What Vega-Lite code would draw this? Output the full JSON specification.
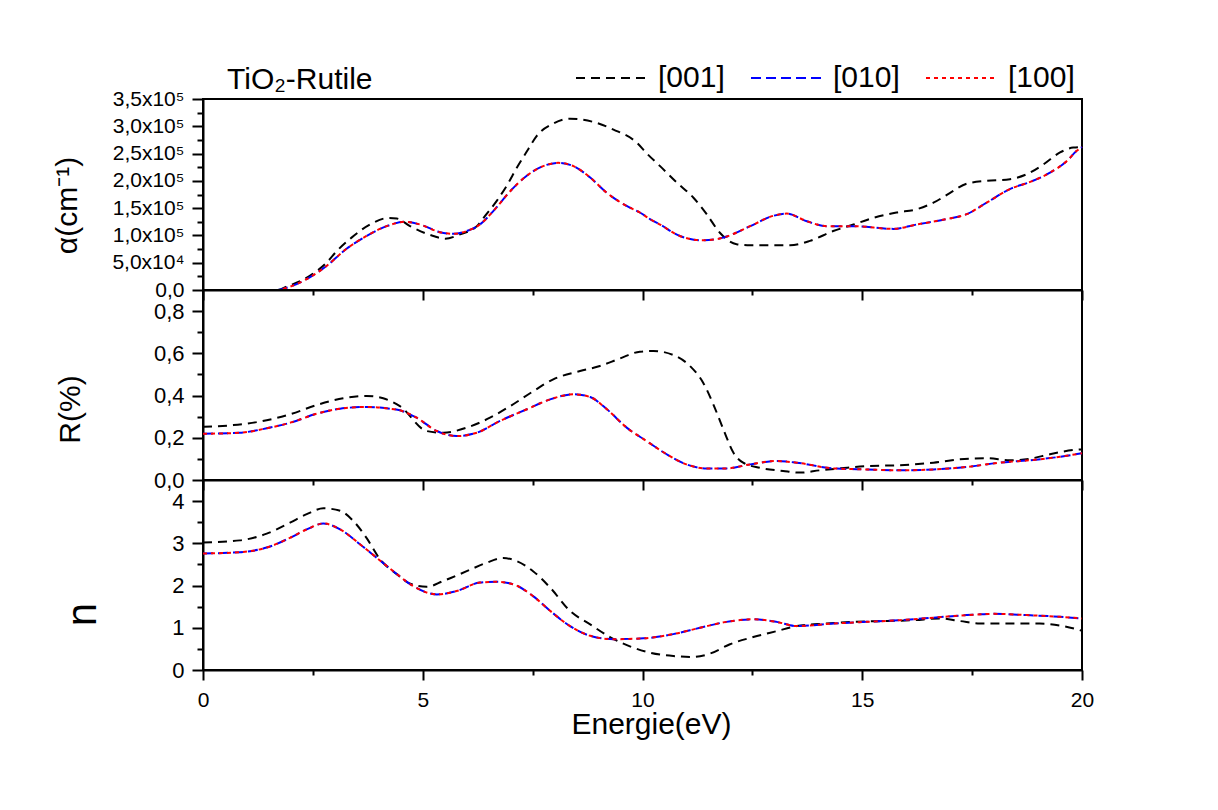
{
  "$schema": "https://vega.github.io/schema/vega-lite/v6.json",
  "padding": {"top": 40, "left": 51, "right": 5, "bottom": 5},
  "background": "white",
  "spacing": 0,
  "bounds": "flush",
  "config": {
    "font": "Liberation Sans",
    "view": {"stroke": "black", "strokeWidth": 2},
    "axis": {"domainColor": "black", "domainWidth": 2, "tickColor": "black", "tickWidth": 2, "labelColor": "black", "titleColor": "black", "grid": false, "labelFont": "Liberation Sans", "titleFont": "Liberation Sans", "titleFontWeight": "normal", "labelOverlap": false, "labelFlush": false}
  },
  "datasets": {
    "alpha": [
      {"E":0,"v":0,"s":"[001]"},{"E":1,"v":0,"s":"[001]"},{"E":1.7,"v":0,"s":"[001]"},{"E":1.9,"v":6000,"s":"[001]"},{"E":2.43,"v":26000,"s":"[001]"},{"E":2.81,"v":50000,"s":"[001]"},{"E":3.04,"v":71000,"s":"[001]"},{"E":3.38,"v":96000,"s":"[001]"},{"E":3.8,"v":120000,"s":"[001]"},{"E":4.22,"v":132000,"s":"[001]"},{"E":4.41,"v":131000,"s":"[001]"},{"E":4.71,"v":117000,"s":"[001]"},{"E":5.24,"v":99000,"s":"[001]"},{"E":5.51,"v":94000,"s":"[001]"},{"E":5.85,"v":102000,"s":"[001]"},{"E":6.23,"v":117000,"s":"[001]"},{"E":6.45,"v":139000,"s":"[001]"},{"E":6.68,"v":163000,"s":"[001]"},{"E":6.91,"v":191000,"s":"[001]"},{"E":7.14,"v":224000,"s":"[001]"},{"E":7.4,"v":258000,"s":"[001]"},{"E":7.59,"v":282000,"s":"[001]"},{"E":7.97,"v":305000,"s":"[001]"},{"E":8.35,"v":314000,"s":"[001]"},{"E":8.88,"v":308000,"s":"[001]"},{"E":9.34,"v":294000,"s":"[001]"},{"E":9.87,"v":270000,"s":"[001]"},{"E":10.1,"v":250000,"s":"[001]"},{"E":10.4,"v":227000,"s":"[001]"},{"E":10.78,"v":197000,"s":"[001]"},{"E":11.16,"v":169000,"s":"[001]"},{"E":11.46,"v":139000,"s":"[001]"},{"E":11.76,"v":105000,"s":"[001]"},{"E":12.14,"v":84000,"s":"[001]"},{"E":12.45,"v":82000,"s":"[001]"},{"E":13.36,"v":82000,"s":"[001]"},{"E":13.81,"v":90000,"s":"[001]"},{"E":14.34,"v":108000,"s":"[001]"},{"E":14.8,"v":120000,"s":"[001]"},{"E":15.25,"v":132000,"s":"[001]"},{"E":15.78,"v":142000,"s":"[001]"},{"E":16.24,"v":148000,"s":"[001]"},{"E":16.62,"v":160000,"s":"[001]"},{"E":17.0,"v":178000,"s":"[001]"},{"E":17.38,"v":195000,"s":"[001]"},{"E":17.83,"v":200000,"s":"[001]"},{"E":18.36,"v":203000,"s":"[001]"},{"E":18.74,"v":212000,"s":"[001]"},{"E":19.12,"v":230000,"s":"[001]"},{"E":19.5,"v":252000,"s":"[001]"},{"E":19.8,"v":261000,"s":"[001]"},{"E":20,"v":262000,"s":"[001]"},
      {"E":0,"v":0,"s":"[010]"},{"E":1,"v":0,"s":"[010]"},{"E":1.7,"v":0,"s":"[010]"},{"E":1.9,"v":4000,"s":"[010]"},{"E":2.36,"v":20000,"s":"[010]"},{"E":2.81,"v":44000,"s":"[010]"},{"E":3.26,"v":75000,"s":"[010]"},{"E":3.72,"v":99000,"s":"[010]"},{"E":4.18,"v":117000,"s":"[010]"},{"E":4.6,"v":125000,"s":"[010]"},{"E":4.94,"v":120000,"s":"[010]"},{"E":5.39,"v":106000,"s":"[010]"},{"E":5.7,"v":103000,"s":"[010]"},{"E":6.0,"v":108000,"s":"[010]"},{"E":6.3,"v":120000,"s":"[010]"},{"E":6.61,"v":145000,"s":"[010]"},{"E":6.99,"v":181000,"s":"[010]"},{"E":7.36,"v":209000,"s":"[010]"},{"E":7.74,"v":227000,"s":"[010]"},{"E":8.08,"v":233000,"s":"[010]"},{"E":8.43,"v":227000,"s":"[010]"},{"E":8.81,"v":206000,"s":"[010]"},{"E":9.19,"v":178000,"s":"[010]"},{"E":9.64,"v":154000,"s":"[010]"},{"E":9.94,"v":142000,"s":"[010]"},{"E":10.17,"v":130000,"s":"[010]"},{"E":10.4,"v":120000,"s":"[010]"},{"E":10.85,"v":99000,"s":"[010]"},{"E":11.38,"v":91000,"s":"[010]"},{"E":11.84,"v":96000,"s":"[010]"},{"E":12.45,"v":117000,"s":"[010]"},{"E":12.98,"v":136000,"s":"[010]"},{"E":13.28,"v":140000,"s":"[010]"},{"E":13.74,"v":126000,"s":"[010]"},{"E":14.19,"v":117000,"s":"[010]"},{"E":14.8,"v":117000,"s":"[010]"},{"E":15.71,"v":112000,"s":"[010]"},{"E":16.24,"v":120000,"s":"[010]"},{"E":16.92,"v":130000,"s":"[010]"},{"E":17.38,"v":139000,"s":"[010]"},{"E":17.83,"v":160000,"s":"[010]"},{"E":18.36,"v":185000,"s":"[010]"},{"E":18.82,"v":198000,"s":"[010]"},{"E":19.27,"v":215000,"s":"[010]"},{"E":19.65,"v":236000,"s":"[010]"},{"E":19.88,"v":255000,"s":"[010]"},{"E":20,"v":262000,"s":"[010]"},
      {"E":0,"v":0,"s":"[100]"},{"E":1,"v":0,"s":"[100]"},{"E":1.7,"v":0,"s":"[100]"},{"E":1.9,"v":4000,"s":"[100]"},{"E":2.36,"v":20000,"s":"[100]"},{"E":2.81,"v":44000,"s":"[100]"},{"E":3.26,"v":75000,"s":"[100]"},{"E":3.72,"v":99000,"s":"[100]"},{"E":4.18,"v":117000,"s":"[100]"},{"E":4.6,"v":125000,"s":"[100]"},{"E":4.94,"v":120000,"s":"[100]"},{"E":5.39,"v":106000,"s":"[100]"},{"E":5.7,"v":103000,"s":"[100]"},{"E":6.0,"v":108000,"s":"[100]"},{"E":6.3,"v":120000,"s":"[100]"},{"E":6.61,"v":145000,"s":"[100]"},{"E":6.99,"v":181000,"s":"[100]"},{"E":7.36,"v":209000,"s":"[100]"},{"E":7.74,"v":227000,"s":"[100]"},{"E":8.08,"v":233000,"s":"[100]"},{"E":8.43,"v":227000,"s":"[100]"},{"E":8.81,"v":206000,"s":"[100]"},{"E":9.19,"v":178000,"s":"[100]"},{"E":9.64,"v":154000,"s":"[100]"},{"E":9.94,"v":142000,"s":"[100]"},{"E":10.17,"v":130000,"s":"[100]"},{"E":10.4,"v":120000,"s":"[100]"},{"E":10.85,"v":99000,"s":"[100]"},{"E":11.38,"v":91000,"s":"[100]"},{"E":11.84,"v":96000,"s":"[100]"},{"E":12.45,"v":117000,"s":"[100]"},{"E":12.98,"v":136000,"s":"[100]"},{"E":13.28,"v":140000,"s":"[100]"},{"E":13.74,"v":126000,"s":"[100]"},{"E":14.19,"v":117000,"s":"[100]"},{"E":14.8,"v":117000,"s":"[100]"},{"E":15.71,"v":112000,"s":"[100]"},{"E":16.24,"v":120000,"s":"[100]"},{"E":16.92,"v":130000,"s":"[100]"},{"E":17.38,"v":139000,"s":"[100]"},{"E":17.83,"v":160000,"s":"[100]"},{"E":18.36,"v":185000,"s":"[100]"},{"E":18.82,"v":198000,"s":"[100]"},{"E":19.27,"v":215000,"s":"[100]"},{"E":19.65,"v":236000,"s":"[100]"},{"E":19.88,"v":255000,"s":"[100]"},{"E":20,"v":262000,"s":"[100]"}
    ],
    "refl": [
      {"E":0,"v":0.252,"s":"[001]"},{"E":0.69,"v":0.26,"s":"[001]"},{"E":1.45,"v":0.283,"s":"[001]"},{"E":1.98,"v":0.311,"s":"[001]"},{"E":2.59,"v":0.355,"s":"[001]"},{"E":3.19,"v":0.387,"s":"[001]"},{"E":3.72,"v":0.398,"s":"[001]"},{"E":4.1,"v":0.387,"s":"[001]"},{"E":4.48,"v":0.35,"s":"[001]"},{"E":5.09,"v":0.232,"s":"[001]"},{"E":5.47,"v":0.224,"s":"[001]"},{"E":6.0,"v":0.248,"s":"[001]"},{"E":6.53,"v":0.295,"s":"[001]"},{"E":6.99,"v":0.35,"s":"[001]"},{"E":7.51,"v":0.42,"s":"[001]"},{"E":7.97,"v":0.477,"s":"[001]"},{"E":8.58,"v":0.516,"s":"[001]"},{"E":9.03,"v":0.54,"s":"[001]"},{"E":9.49,"v":0.576,"s":"[001]"},{"E":9.94,"v":0.608,"s":"[001]"},{"E":10.25,"v":0.611,"s":"[001]"},{"E":10.7,"v":0.592,"s":"[001]"},{"E":11.08,"v":0.54,"s":"[001]"},{"E":11.38,"v":0.461,"s":"[001]"},{"E":11.61,"v":0.359,"s":"[001]"},{"E":11.84,"v":0.24,"s":"[001]"},{"E":12.07,"v":0.129,"s":"[001]"},{"E":12.29,"v":0.082,"s":"[001]"},{"E":12.67,"v":0.058,"s":"[001]"},{"E":13.2,"v":0.043,"s":"[001]"},{"E":13.58,"v":0.035,"s":"[001]"},{"E":14.04,"v":0.046,"s":"[001]"},{"E":14.49,"v":0.055,"s":"[001]"},{"E":15.1,"v":0.066,"s":"[001]"},{"E":15.86,"v":0.07,"s":"[001]"},{"E":16.62,"v":0.082,"s":"[001]"},{"E":17.22,"v":0.098,"s":"[001]"},{"E":17.83,"v":0.103,"s":"[001]"},{"E":18.36,"v":0.093,"s":"[001]"},{"E":18.82,"v":0.101,"s":"[001]"},{"E":19.27,"v":0.122,"s":"[001]"},{"E":19.8,"v":0.142,"s":"[001]"},{"E":20,"v":0.145,"s":"[001]"},
      {"E":0,"v":0.219,"s":"[010]"},{"E":0.84,"v":0.224,"s":"[010]"},{"E":1.45,"v":0.245,"s":"[010]"},{"E":1.98,"v":0.271,"s":"[010]"},{"E":2.59,"v":0.314,"s":"[010]"},{"E":3.12,"v":0.338,"s":"[010]"},{"E":3.72,"v":0.346,"s":"[010]"},{"E":4.25,"v":0.338,"s":"[010]"},{"E":4.48,"v":0.33,"s":"[010]"},{"E":4.86,"v":0.295,"s":"[010]"},{"E":5.32,"v":0.232,"s":"[010]"},{"E":5.77,"v":0.208,"s":"[010]"},{"E":6.23,"v":0.224,"s":"[010]"},{"E":6.76,"v":0.28,"s":"[010]"},{"E":7.37,"v":0.335,"s":"[010]"},{"E":7.9,"v":0.382,"s":"[010]"},{"E":8.43,"v":0.406,"s":"[010]"},{"E":8.81,"v":0.393,"s":"[010]"},{"E":9.19,"v":0.335,"s":"[010]"},{"E":9.64,"v":0.248,"s":"[010]"},{"E":10.09,"v":0.185,"s":"[010]"},{"E":10.55,"v":0.122,"s":"[010]"},{"E":11.0,"v":0.074,"s":"[010]"},{"E":11.46,"v":0.055,"s":"[010]"},{"E":11.91,"v":0.055,"s":"[010]"},{"E":12.45,"v":0.074,"s":"[010]"},{"E":13.05,"v":0.09,"s":"[010]"},{"E":13.51,"v":0.082,"s":"[010]"},{"E":14.34,"v":0.055,"s":"[010]"},{"E":15.1,"v":0.05,"s":"[010]"},{"E":15.86,"v":0.046,"s":"[010]"},{"E":16.62,"v":0.05,"s":"[010]"},{"E":17.38,"v":0.062,"s":"[010]"},{"E":18.13,"v":0.082,"s":"[010]"},{"E":18.89,"v":0.095,"s":"[010]"},{"E":19.5,"v":0.11,"s":"[010]"},{"E":20,"v":0.127,"s":"[010]"},
      {"E":0,"v":0.219,"s":"[100]"},{"E":0.84,"v":0.224,"s":"[100]"},{"E":1.45,"v":0.245,"s":"[100]"},{"E":1.98,"v":0.271,"s":"[100]"},{"E":2.59,"v":0.314,"s":"[100]"},{"E":3.12,"v":0.338,"s":"[100]"},{"E":3.72,"v":0.346,"s":"[100]"},{"E":4.25,"v":0.338,"s":"[100]"},{"E":4.48,"v":0.33,"s":"[100]"},{"E":4.86,"v":0.295,"s":"[100]"},{"E":5.32,"v":0.232,"s":"[100]"},{"E":5.77,"v":0.208,"s":"[100]"},{"E":6.23,"v":0.224,"s":"[100]"},{"E":6.76,"v":0.28,"s":"[100]"},{"E":7.37,"v":0.335,"s":"[100]"},{"E":7.9,"v":0.382,"s":"[100]"},{"E":8.43,"v":0.406,"s":"[100]"},{"E":8.81,"v":0.393,"s":"[100]"},{"E":9.19,"v":0.335,"s":"[100]"},{"E":9.64,"v":0.248,"s":"[100]"},{"E":10.09,"v":0.185,"s":"[100]"},{"E":10.55,"v":0.122,"s":"[100]"},{"E":11.0,"v":0.074,"s":"[100]"},{"E":11.46,"v":0.055,"s":"[100]"},{"E":11.91,"v":0.055,"s":"[100]"},{"E":12.45,"v":0.074,"s":"[100]"},{"E":13.05,"v":0.09,"s":"[100]"},{"E":13.51,"v":0.082,"s":"[100]"},{"E":14.34,"v":0.055,"s":"[100]"},{"E":15.1,"v":0.05,"s":"[100]"},{"E":15.86,"v":0.046,"s":"[100]"},{"E":16.62,"v":0.05,"s":"[100]"},{"E":17.38,"v":0.062,"s":"[100]"},{"E":18.13,"v":0.082,"s":"[100]"},{"E":18.89,"v":0.095,"s":"[100]"},{"E":19.5,"v":0.11,"s":"[100]"},{"E":20,"v":0.127,"s":"[100]"}
    ],
    "nidx": [
      {"E":0,"v":3.02,"s":"[001]"},{"E":0.84,"v":3.07,"s":"[001]"},{"E":1.45,"v":3.23,"s":"[001]"},{"E":1.98,"v":3.49,"s":"[001]"},{"E":2.36,"v":3.69,"s":"[001]"},{"E":2.74,"v":3.83,"s":"[001]"},{"E":3.12,"v":3.77,"s":"[001]"},{"E":3.42,"v":3.53,"s":"[001]"},{"E":3.72,"v":3.13,"s":"[001]"},{"E":4.03,"v":2.62,"s":"[001]"},{"E":4.41,"v":2.27,"s":"[001]"},{"E":4.7,"v":2.05,"s":"[001]"},{"E":5.09,"v":1.97,"s":"[001]"},{"E":5.47,"v":2.11,"s":"[001]"},{"E":6.0,"v":2.34,"s":"[001]"},{"E":6.45,"v":2.54,"s":"[001]"},{"E":6.83,"v":2.65,"s":"[001]"},{"E":7.14,"v":2.58,"s":"[001]"},{"E":7.51,"v":2.34,"s":"[001]"},{"E":7.9,"v":1.95,"s":"[001]"},{"E":8.35,"v":1.4,"s":"[001]"},{"E":8.81,"v":1.08,"s":"[001]"},{"E":9.26,"v":0.78,"s":"[001]"},{"E":9.79,"v":0.53,"s":"[001]"},{"E":10.17,"v":0.41,"s":"[001]"},{"E":10.7,"v":0.33,"s":"[001]"},{"E":11.16,"v":0.31,"s":"[001]"},{"E":11.54,"v":0.39,"s":"[001]"},{"E":11.99,"v":0.61,"s":"[001]"},{"E":12.52,"v":0.78,"s":"[001]"},{"E":13.05,"v":0.92,"s":"[001]"},{"E":13.51,"v":1.04,"s":"[001]"},{"E":14.19,"v":1.1,"s":"[001]"},{"E":14.8,"v":1.14,"s":"[001]"},{"E":15.56,"v":1.16,"s":"[001]"},{"E":16.16,"v":1.18,"s":"[001]"},{"E":16.77,"v":1.22,"s":"[001]"},{"E":17.22,"v":1.16,"s":"[001]"},{"E":17.68,"v":1.1,"s":"[001]"},{"E":18.29,"v":1.1,"s":"[001]"},{"E":19.04,"v":1.1,"s":"[001]"},{"E":19.57,"v":1.04,"s":"[001]"},{"E":20,"v":0.93,"s":"[001]"},
      {"E":0,"v":2.76,"s":"[010]"},{"E":0.84,"v":2.79,"s":"[010]"},{"E":1.45,"v":2.9,"s":"[010]"},{"E":1.98,"v":3.13,"s":"[010]"},{"E":2.36,"v":3.33,"s":"[010]"},{"E":2.74,"v":3.47,"s":"[010]"},{"E":3.12,"v":3.33,"s":"[010]"},{"E":3.57,"v":2.98,"s":"[010]"},{"E":3.95,"v":2.66,"s":"[010]"},{"E":4.33,"v":2.34,"s":"[010]"},{"E":4.78,"v":1.99,"s":"[010]"},{"E":5.32,"v":1.79,"s":"[010]"},{"E":5.77,"v":1.87,"s":"[010]"},{"E":6.3,"v":2.07,"s":"[010]"},{"E":6.68,"v":2.09,"s":"[010]"},{"E":7.06,"v":2.03,"s":"[010]"},{"E":7.51,"v":1.75,"s":"[010]"},{"E":7.9,"v":1.4,"s":"[010]"},{"E":8.35,"v":1.04,"s":"[010]"},{"E":8.81,"v":0.81,"s":"[010]"},{"E":9.34,"v":0.73,"s":"[010]"},{"E":10.02,"v":0.75,"s":"[010]"},{"E":10.7,"v":0.85,"s":"[010]"},{"E":11.31,"v":1.0,"s":"[010]"},{"E":11.91,"v":1.14,"s":"[010]"},{"E":12.52,"v":1.2,"s":"[010]"},{"E":13.05,"v":1.14,"s":"[010]"},{"E":13.51,"v":1.04,"s":"[010]"},{"E":14.34,"v":1.1,"s":"[010]"},{"E":15.1,"v":1.14,"s":"[010]"},{"E":15.86,"v":1.18,"s":"[010]"},{"E":16.62,"v":1.24,"s":"[010]"},{"E":17.38,"v":1.3,"s":"[010]"},{"E":17.98,"v":1.33,"s":"[010]"},{"E":18.74,"v":1.3,"s":"[010]"},{"E":19.5,"v":1.26,"s":"[010]"},{"E":20,"v":1.22,"s":"[010]"},
      {"E":0,"v":2.76,"s":"[100]"},{"E":0.84,"v":2.79,"s":"[100]"},{"E":1.45,"v":2.9,"s":"[100]"},{"E":1.98,"v":3.13,"s":"[100]"},{"E":2.36,"v":3.33,"s":"[100]"},{"E":2.74,"v":3.47,"s":"[100]"},{"E":3.12,"v":3.33,"s":"[100]"},{"E":3.57,"v":2.98,"s":"[100]"},{"E":3.95,"v":2.66,"s":"[100]"},{"E":4.33,"v":2.34,"s":"[100]"},{"E":4.78,"v":1.99,"s":"[100]"},{"E":5.32,"v":1.79,"s":"[100]"},{"E":5.77,"v":1.87,"s":"[100]"},{"E":6.3,"v":2.07,"s":"[100]"},{"E":6.68,"v":2.09,"s":"[100]"},{"E":7.06,"v":2.03,"s":"[100]"},{"E":7.51,"v":1.75,"s":"[100]"},{"E":7.9,"v":1.4,"s":"[100]"},{"E":8.35,"v":1.04,"s":"[100]"},{"E":8.81,"v":0.81,"s":"[100]"},{"E":9.34,"v":0.73,"s":"[100]"},{"E":10.02,"v":0.75,"s":"[100]"},{"E":10.7,"v":0.85,"s":"[100]"},{"E":11.31,"v":1.0,"s":"[100]"},{"E":11.91,"v":1.14,"s":"[100]"},{"E":12.52,"v":1.2,"s":"[100]"},{"E":13.05,"v":1.14,"s":"[100]"},{"E":13.51,"v":1.04,"s":"[100]"},{"E":14.34,"v":1.1,"s":"[100]"},{"E":15.1,"v":1.14,"s":"[100]"},{"E":15.86,"v":1.18,"s":"[100]"},{"E":16.62,"v":1.24,"s":"[100]"},{"E":17.38,"v":1.3,"s":"[100]"},{"E":17.98,"v":1.33,"s":"[100]"},{"E":18.74,"v":1.3,"s":"[100]"},{"E":19.5,"v":1.26,"s":"[100]"},{"E":20,"v":1.22,"s":"[100]"}
    ]
  },
  "resolve": {"legend": {"color": "independent", "strokeDash": "independent"}},
  "vconcat": [
    {
      "width": 879,
      "height": 191,
      "title": {"text": "TiO₂-Rutile", "anchor": "start", "frame": "group", "dx": 24, "dy": 88, "offset": 10, "baseline": "alphabetic", "fontSize": 30, "fontWeight": "normal", "font": "Liberation Sans", "color": "black"},
      "data": {"name": "alpha"},
      "mark": {"type": "line", "interpolate": "monotone", "strokeWidth": 2},
      "encoding": {
        "x": {"field": "E", "type": "quantitative", "scale": {"domain": [0, 20], "nice": false},
          "axis": {"values": [0, 2.5, 5, 7.5, 10, 12.5, 15, 17.5, 20], "labels": false, "title": null, "tickSize": {"condition": {"test": "datum.value % 5 === 0", "value": 10}, "value": 5}}},
        "y": {"field": "v", "type": "quantitative", "scale": {"domain": [0, 350000], "nice": false},
          "axis": {"values": [0, 25000, 50000, 75000, 100000, 125000, 150000, 175000, 200000, 225000, 250000, 275000, 300000, 325000, 350000],
            "labelExpr": "round(datum.value/25000) % 2 !== 0 ? '' : (datum.value === 0 ? '0,0' : (datum.value < 100000 ? replace(format(datum.value/10000, '.1f'), '.', ',') + 'x10⁴' : replace(format(datum.value/100000, '.1f'), '.', ',') + 'x10⁵'))",
            "labelFontSize": 21, "labelPadding": 8,
            "tickSize": {"condition": {"test": "round(datum.value/25000) % 2 === 0", "value": 11}, "value": 6},
            "title": "α(cm⁻¹)", "titleFontSize": 30, "titleAngle": -90, "titleBaseline": "middle", "titleX": -136, "titleY": 106}},
        "color": {"field": "s", "type": "nominal", "scale": {"domain": ["[001]", "[010]", "[100]"], "range": ["black", "blue", "red"]},
          "legend": {"orient": "none", "legendX": 372, "legendY": -58, "direction": "horizontal", "columns": 3, "title": null, "symbolType": "stroke", "symbolSize": 5184, "symbolStrokeWidth": 2, "labelFontSize": 30, "labelFont": "Liberation Sans", "labelColor": "black", "labelOffset": 9, "columnPadding": 22, "padding": 0}},
        "strokeDash": {"field": "s", "type": "nominal", "scale": {"domain": ["[001]", "[010]", "[100]"], "range": [[9, 6], [10, 5], [4, 4]]},
          "legend": {"orient": "none", "legendX": 372, "legendY": -58, "direction": "horizontal", "columns": 3, "title": null, "symbolType": "stroke", "symbolSize": 5184, "symbolStrokeWidth": 2, "labelFontSize": 30, "labelFont": "Liberation Sans", "labelColor": "black", "labelOffset": 9, "columnPadding": 22, "padding": 0}}
      }
    },
    {
      "width": 879,
      "height": 190,
      "data": {"name": "refl"},
      "mark": {"type": "line", "interpolate": "monotone", "strokeWidth": 2},
      "encoding": {
        "x": {"field": "E", "type": "quantitative", "scale": {"domain": [0, 20], "nice": false},
          "axis": {"values": [0, 2.5, 5, 7.5, 10, 12.5, 15, 17.5, 20], "labels": false, "title": null, "tickSize": {"condition": {"test": "datum.value % 5 === 0", "value": 10}, "value": 5}}},
        "y": {"field": "v", "type": "quantitative", "scale": {"domain": [0, 0.9], "nice": false},
          "axis": {"values": [0, 0.1, 0.2, 0.3, 0.4, 0.5, 0.6, 0.7, 0.8],
            "labelExpr": "round(datum.value*10) % 2 !== 0 ? '' : replace(format(datum.value, '.1f'), '.', ',')",
            "labelFontSize": 22, "labelPadding": 8,
            "tickSize": {"condition": {"test": "round(datum.value*10) % 2 === 0", "value": 11}, "value": 6},
            "title": "R(%)", "titleFontSize": 30, "titleAngle": -90, "titleBaseline": "middle", "titleX": -133, "titleY": 119}},
        "color": {"field": "s", "type": "nominal", "scale": {"domain": ["[001]", "[010]", "[100]"], "range": ["black", "blue", "red"]}, "legend": null},
        "strokeDash": {"field": "s", "type": "nominal", "scale": {"domain": ["[001]", "[010]", "[100]"], "range": [[9, 6], [10, 5], [4, 4]]}, "legend": null}
      }
    },
    {
      "width": 879,
      "height": 190,
      "data": {"name": "nidx"},
      "mark": {"type": "line", "interpolate": "monotone", "strokeWidth": 2},
      "encoding": {
        "x": {"field": "E", "type": "quantitative", "scale": {"domain": [0, 20], "nice": false},
          "axis": {"values": [0, 2.5, 5, 7.5, 10, 12.5, 15, 17.5, 20],
            "labelExpr": "datum.value % 5 === 0 ? format(datum.value, 'd') : ''",
            "labelFontSize": 21, "labelPadding": 9,
            "tickSize": {"condition": {"test": "datum.value % 5 === 0", "value": 10}, "value": 5},
            "title": "Energie(eV)", "titleFontSize": 30, "titleBaseline": "alphabetic", "titleX": 448, "titleY": 63}},
        "y": {"field": "v", "type": "quantitative", "scale": {"domain": [0, 4.5], "nice": false},
          "axis": {"values": [0, 0.5, 1, 1.5, 2, 2.5, 3, 3.5, 4],
            "labelExpr": "datum.value % 1 !== 0 ? '' : format(datum.value, 'd')",
            "labelFontSize": 22, "labelPadding": 8,
            "tickSize": {"condition": {"test": "datum.value % 1 === 0", "value": 11}, "value": 6},
            "title": "n", "titleFontSize": 42, "titleAngle": -90, "titleBaseline": "middle", "titleX": -121, "titleY": 134}},
        "color": {"field": "s", "type": "nominal", "scale": {"domain": ["[001]", "[010]", "[100]"], "range": ["black", "blue", "red"]}, "legend": null},
        "strokeDash": {"field": "s", "type": "nominal", "scale": {"domain": ["[001]", "[010]", "[100]"], "range": [[9, 6], [10, 5], [4, 4]]}, "legend": null}
      }
    }
  ]
}
